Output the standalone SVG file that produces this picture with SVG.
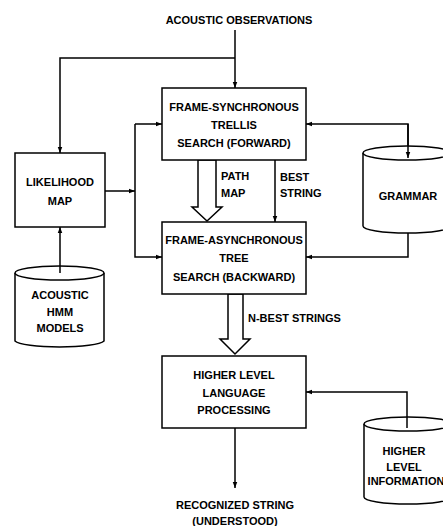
<svg xmlns="http://www.w3.org/2000/svg" width="443" height="526" viewBox="0 0 443 526">
<defs>
<marker id="ah" viewBox="0 0 8 8" refX="8" refY="4" markerWidth="6" markerHeight="6" orient="auto" markerUnits="userSpaceOnUse">
<path d="M0,1 L8,4 L0,7 Z" fill="#000"/>
</marker>
</defs>
<style>
text{font-family:"Liberation Sans",Arial,sans-serif;font-weight:bold;font-size:11px;fill:#000;text-anchor:middle}
.l{text-anchor:start}
.box{fill:#fff;stroke:#000;stroke-width:1.5}
.cyl{fill:#fff;stroke:#000;stroke-width:1.5}
.c{fill:none;stroke:#000;stroke-width:1.5}
.ar{marker-end:url(#ah)}
.hollow{fill:#fff;stroke:#000;stroke-width:1.5;stroke-linejoin:miter}
</style>
<rect width="443" height="526" fill="#fff"/>

<g id="connectors">
<line class="c ar" x1="235" y1="30" x2="235" y2="88"/>
<polyline class="c ar" points="235,58 60,58 60,153"/>
<line class="c ar" x1="60" y1="272" x2="60" y2="227"/>
<line class="c ar" x1="105" y1="191" x2="135" y2="191"/>
<line class="c ar" x1="135" y1="124" x2="162" y2="124"/>
<polyline class="c ar" points="135,124 135,257 162,257"/>
<polyline class="c ar" points="408,158 408,124 306,124"/>
<polyline class="c ar" points="408,233 408,257 306,257"/>
<line class="c ar" x1="275" y1="160" x2="275" y2="222"/>
<polygon class="hollow" points="198,160 216,160 216,207 222,207 207,221 192,207 198,207"/>
<polygon class="hollow" points="228,294 243,294 243,339 250,339 235,354 220,339 228,339"/>
<polyline class="c ar" points="407,428 407,392 306,392"/>
<line class="c ar" x1="235" y1="428" x2="235" y2="488"/>
</g>

<text x="239" y="24">ACOUSTIC OBSERVATIONS</text>

<g id="fs">
<rect class="box" x="162" y="88" width="144" height="72"/>
<text x="234" y="111">FRAME-SYNCHRONOUS</text>
<text x="234" y="129">TRELLIS</text>
<text x="234" y="147">SEARCH (FORWARD)</text>
</g>

<g id="lm">
<rect class="box" x="15" y="153" width="90" height="74"/>
<text x="60" y="186">LIKELIHOOD</text>
<text x="60" y="205">MAP</text>
</g>

<g id="hmm">
<path class="cyl" d="M15,273 L15,341 A45,7 0 0 0 104,341 L104,273"/>
<ellipse class="cyl" cx="59.5" cy="273" rx="44.5" ry="7"/>
<line class="c" x1="60" y1="266" x2="60" y2="273"/>
<text x="60" y="299">ACOUSTIC</text>
<text x="60" y="316">HMM</text>
<text x="60" y="332">MODELS</text>
</g>

<g id="grammar">
<path class="cyl" d="M363,153 L363,226 A44,7 0 0 0 451,226 L451,153"/>
<ellipse class="cyl" cx="407" cy="153" rx="44" ry="7"/>
<line class="c ar" x1="408" y1="124" x2="408" y2="158"/>
<text x="408" y="200">GRAMMAR</text>
</g>

<g id="labels">
<text class="l" x="221" y="180">PATH</text>
<text class="l" x="221" y="197">MAP</text>
<text class="l" x="280" y="181">BEST</text>
<text class="l" x="280" y="197">STRING</text>
<text class="l" x="248" y="322">N-BEST STRINGS</text>
</g>

<g id="fa">
<rect class="box" x="162" y="222" width="144" height="72"/>
<text x="234" y="244">FRAME-ASYNCHRONOUS</text>
<text x="234" y="262">TREE</text>
<text x="234" y="281">SEARCH (BACKWARD)</text>
</g>

<g id="hllp">
<rect class="box" x="162" y="356" width="144" height="72"/>
<text x="234" y="379">HIGHER LEVEL</text>
<text x="234" y="397">LANGUAGE</text>
<text x="234" y="414">PROCESSING</text>
</g>

<g id="hli">
<path class="cyl" d="M364,424 L364,497 A44,7 0 0 0 452,497 L452,424"/>
<ellipse class="cyl" cx="408" cy="424" rx="44" ry="7"/>
<line class="c" x1="407" y1="417" x2="407" y2="428"/>
<text x="404" y="455">HIGHER</text>
<text x="404" y="471">LEVEL</text>
<text x="406" y="485">INFORMATION</text>
</g>

<text x="235" y="509">RECOGNIZED STRING</text>
<text x="235" y="525">(UNDERSTOOD)</text>
</svg>
